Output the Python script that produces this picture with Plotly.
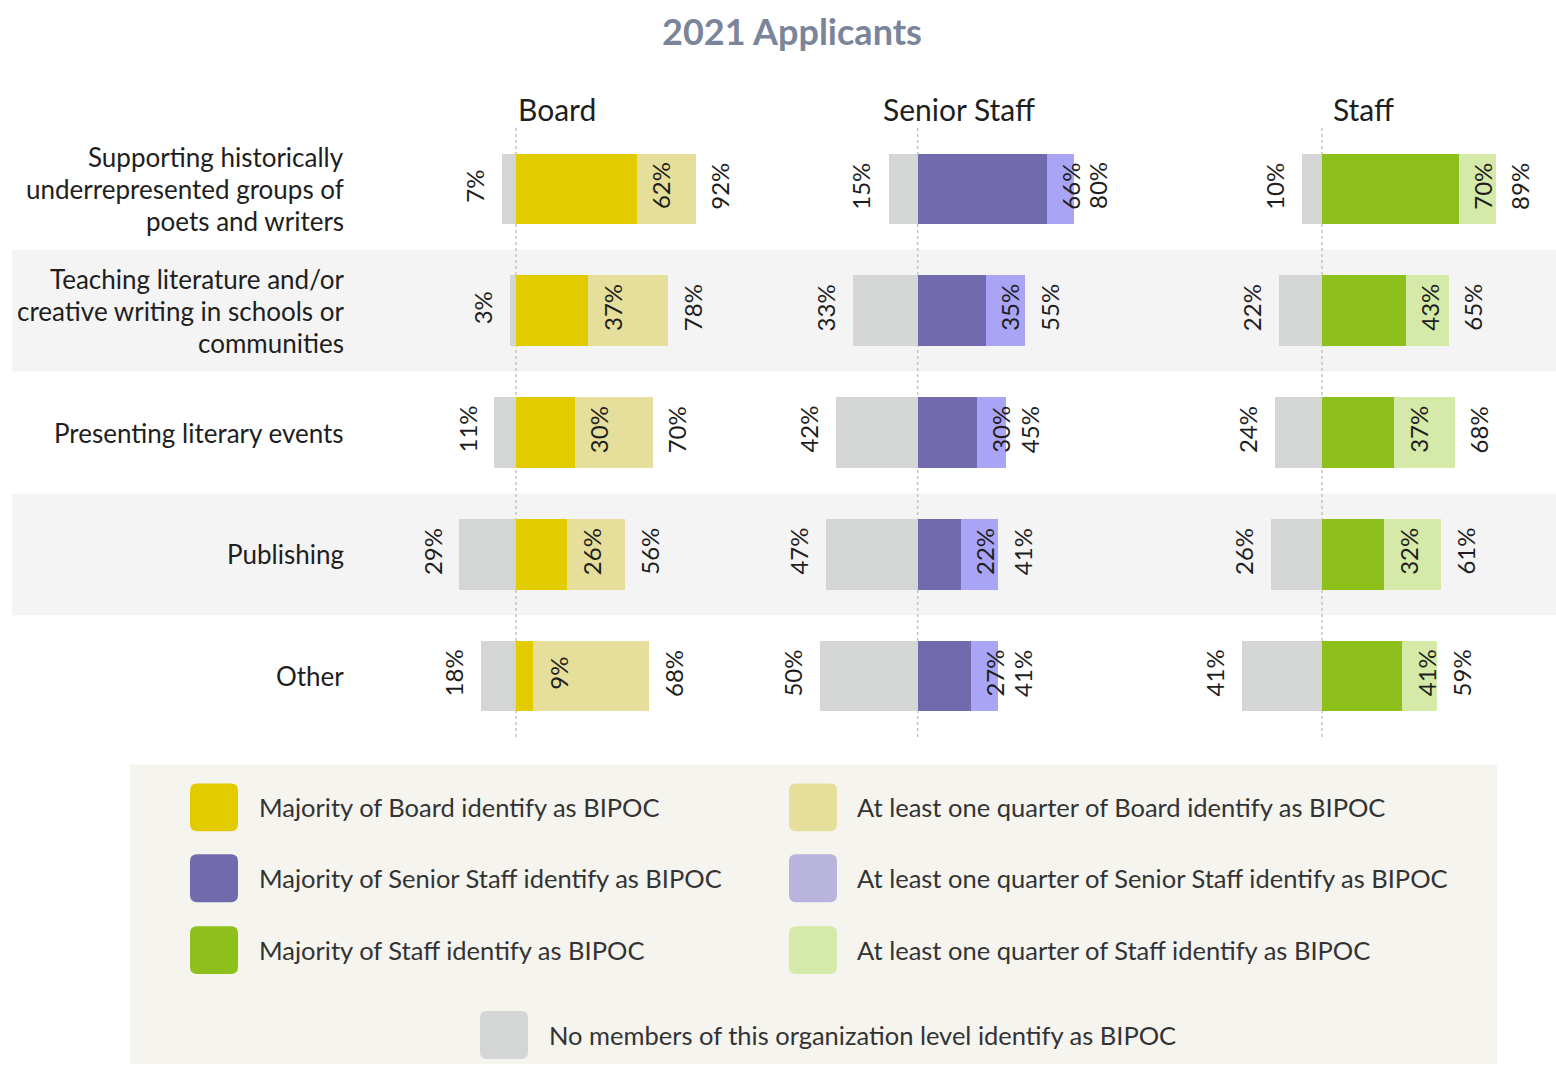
import plotly.graph_objects as go

W, H = 1556, 1065

# ---------------- data ----------------
categories = [
    "Supporting historically<br>underrepresented groups of<br>poets and writers",
    "Teaching literature and/or<br>creative writing in schools or<br>communities",
    "Presenting literary events",
    "Publishing",
    "Other",
]
levels = ["Board", "Senior Staff", "Staff"]

board_none = [7, 3, 11, 29, 18]
board_majority = [62, 37, 30, 26, 9]
board_quarter = [92, 78, 70, 56, 68]

senior_none = [15, 33, 42, 47, 50]
senior_majority = [66, 35, 30, 22, 27]
senior_quarter = [80, 55, 45, 41, 41]

staff_none = [10, 22, 24, 26, 41]
staff_majority = [70, 43, 37, 32, 41]
staff_quarter = [89, 65, 68, 61, 59]

legend_labels = [
    "Majority of Board identify as BIPOC",
    "Majority of Senior Staff identify as BIPOC",
    "Majority of Staff identify as BIPOC",
    "At least one quarter of Board identify as BIPOC",
    "At least one quarter of Senior Staff identify as BIPOC",
    "At least one quarter of Staff identify as BIPOC",
    "No members of this organization level identify as BIPOC",
]

# ---------------- style ----------------
FONT = "Lato"
GRAY = "#d4d5d5"
DARK = ["#e2cc00", "#716bad", "#8dc01a"]
LIGHT = ["#e6df9b", "#aaa4f6", "#d5e9a8"]
LEGEND_LIGHT = ["#e6df9b", "#b8b4dc", "#d5e9a8"]
TXT = "#1e1e1e"

PLOT_TOP, PLOT_BOTTOM = 127.5, 737.5
ZEROS = [516, 917.7, 1322]
PX_PER_PCT = 1.955
XR = [-70, 100]
LINE_H = 32


def px(x):
    return x / W


def py(y):
    return (PLOT_BOTTOM - y) / (PLOT_BOTTOM - PLOT_TOP)


rows = list(range(len(categories)))
fig = go.Figure()

panels = [
    (board_none, board_majority, board_quarter),
    (senior_none, senior_majority, senior_quarter),
    (staff_none, staff_majority, staff_quarter),
]

annotations = []
shapes = []

# row bands
for r in (1, 3):
    shapes.append(dict(type="rect", xref="paper", yref="y", x0=px(12), x1=1,
                       y0=r - 0.5, y1=r + 0.5, fillcolor="#f4f4f4",
                       line=dict(width=0), layer="below"))

for i, (none, maj, quart) in enumerate(panels):
    xa = "x" if i == 0 else f"x{i + 1}"
    common = dict(y=rows, orientation="h", width=0.58, xaxis=xa, yaxis="y",
                  showlegend=False, hoverinfo="skip", opacity=1)
    fig.add_trace(go.Bar(x=[-v for v in none], marker=dict(color=GRAY, line=dict(width=0)), **common))
    fig.add_trace(go.Bar(x=quart, marker=dict(color=LIGHT[i], line=dict(width=0)), **common))
    fig.add_trace(go.Bar(x=maj, marker=dict(color=DARK[i], line=dict(width=0)), **common))

    # zero line
    shapes.append(dict(type="line", xref=xa, yref="paper", x0=0, x1=0, y0=0, y1=1,
                       line=dict(color="#c4c4c4", width=1.5, dash="dot"), layer="below"))

    lab = dict(xref=xa, yref="y", showarrow=False, textangle=-90,
               font=dict(family=FONT, size=24, color=TXT),
               xanchor="center", yanchor="middle", yshift=3)
    for r in rows:
        annotations.append(dict(x=-none[r], y=r, text=f"{none[r]}%", xshift=-27.5, **lab))
        annotations.append(dict(x=maj[r], y=r, text=f"{maj[r]}%", xshift=24, **lab))
        annotations.append(dict(x=quart[r], y=r, text=f"{quart[r]}%", xshift=24, **lab))

    # panel header
    annotations.append(dict(xref="paper", yref="paper", x=px(ZEROS[i] + 41), y=py(108),
                            text=levels[i], showarrow=False, xanchor="center", yanchor="middle",
                            font=dict(family=FONT, size=30, color=TXT)))

# row labels (one annotation per line for tighter line spacing)
for r, c in enumerate(categories):
    lines = c.split("<br>")
    n = len(lines)
    for j, line in enumerate(lines):
        annotations.append(dict(xref="paper", yref="y", x=px(346), y=r, text=line, showarrow=False,
                                xanchor="right", yanchor="middle", align="right",
                                yshift=((n - 1) / 2 - j) * LINE_H,
                                font=dict(family=FONT, size=26, color=TXT)))

# title
annotations.append(dict(xref="paper", yref="paper", x=px(792), y=py(30),
                        text="<b>2021 Applicants</b>", showarrow=False,
                        xanchor="center", yanchor="middle",
                        font=dict(family=FONT, size=36, color="#7a849b")))

# legend box
shapes.append(dict(type="rect", xref="paper", yref="paper", x0=px(130), x1=px(1497),
                   y0=py(765), y1=py(1065), fillcolor="#f5f4ef", line=dict(width=0), layer="below"))


def rounded(x0, y0, s, rad, color):
    x1, y1 = x0 + s, y0 + s
    pts = (f"M {px(x0 + rad)},{py(y0)} L {px(x1 - rad)},{py(y0)} "
           f"Q {px(x1)},{py(y0)} {px(x1)},{py(y0 + rad)} "
           f"L {px(x1)},{py(y1 - rad)} Q {px(x1)},{py(y1)} {px(x1 - rad)},{py(y1)} "
           f"L {px(x0 + rad)},{py(y1)} Q {px(x0)},{py(y1)} {px(x0)},{py(y1 - rad)} "
           f"L {px(x0)},{py(y0 + rad)} Q {px(x0)},{py(y0)} {px(x0 + rad)},{py(y0)} Z")
    return dict(type="path", xref="paper", yref="paper", path=pts, fillcolor=color,
                line=dict(width=0), layer="above")


legend_items = []
row_y = [808, 879, 951]
for k in range(3):
    legend_items.append((190, row_y[k], DARK[k], legend_labels[k], 257))
for k in range(3):
    legend_items.append((789, row_y[k], LEGEND_LIGHT[k], legend_labels[3 + k], 855))
legend_items.append((480, 1036, GRAY, legend_labels[6], 547))

for sx, cy, col, text, tx in legend_items:
    shapes.append(rounded(sx, cy - 24, 48, 7, col))
    annotations.append(dict(xref="paper", yref="paper", x=px(tx), y=py(cy), text=text,
                            showarrow=False, xanchor="left", yanchor="middle",
                            font=dict(family=FONT, size=25.5, color="#333333")))

layout_axes = {}
for i in range(3):
    key = "xaxis" if i == 0 else f"xaxis{i + 1}"
    d0 = ZEROS[i] + XR[0] * PX_PER_PCT
    d1 = ZEROS[i] + XR[1] * PX_PER_PCT
    layout_axes[key] = dict(domain=[px(d0), px(d1)], range=XR, anchor="y",
                            visible=False, showgrid=False, zeroline=False, fixedrange=True)

fig.update_layout(
    width=W, height=H,
    margin=dict(l=0, r=0, t=PLOT_TOP, b=H - PLOT_BOTTOM, pad=0),
    paper_bgcolor="white", plot_bgcolor="rgba(0,0,0,0)",
    barmode="overlay", bargap=0,
    yaxis=dict(range=[4.5, -0.5], visible=False, showgrid=False, zeroline=False,
               anchor="x", fixedrange=True),
    shapes=shapes, annotations=annotations, showlegend=False,
    font=dict(family=FONT),
    **layout_axes,
)

fig.write_html("out.html", config={"displayModeBar": False},
               post_script="document.body.style.margin='0';")
